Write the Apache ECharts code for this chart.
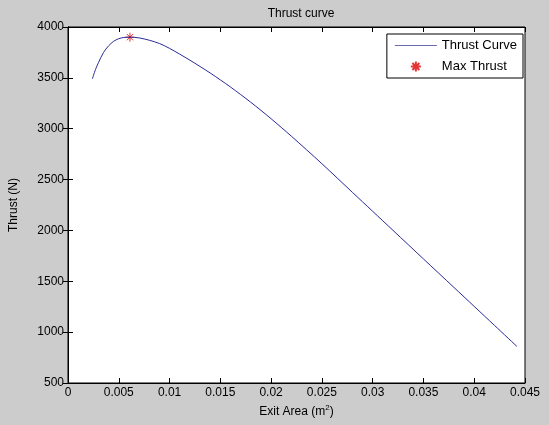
<!DOCTYPE html>
<html>
<head>
<meta charset="utf-8">
<script src="https://cdn.jsdelivr.net/npm/echarts@6/dist/echarts.min.js"></script>
<style>
html,body{margin:0;padding:0;background:#cccccc;}
#c{width:549px;height:425px;}
</style>
</head>
<body>
<div id="c"></div>
<script>
// Data
const exitArea = [0.0024, 0.0027, 0.0030, 0.0035, 0.0040, 0.0045, 0.0050, 0.0055, 0.0061, 0.0070, 0.0080, 0.0090, 0.0100, 0.0120, 0.0140, 0.0150, 0.0160, 0.0180, 0.0200, 0.0220, 0.0250, 0.0280, 0.0300, 0.0320, 0.0350, 0.0380, 0.0400, 0.0420, 0.0442];
const thrust   = [3490, 3580, 3650, 3750, 3815, 3860, 3885, 3897, 3900, 3893, 3870, 3838, 3790, 3674, 3548, 3480, 3410, 3260, 3098, 2926, 2656, 2375, 2188, 2001, 1720, 1440, 1253, 1066, 860];
const maxThrustX = [0.0061];
const maxThrustY = [3900];
const xTicks = [0, 0.005, 0.01, 0.015, 0.02, 0.025, 0.03, 0.035, 0.04, 0.045];
const yTicks = [500, 1000, 1500, 2000, 2500, 3000, 3500, 4000];

const font = 'Liberation Sans, Arial, sans-serif';
const chart = echarts.init(document.getElementById('c'), null, {renderer: 'canvas'});

const curveData = exitArea.map((x, i) => [x, thrust[i]]);
const maxData = maxThrustX.map((x, i) => [x, maxThrustY[i]]);
const star = 'path://M5,0 L5,10 M0,5 L10,5 M1.5,1.5 L8.5,8.5 M1.5,8.5 L8.5,1.5';

const xMin = xTicks[0], xMax = xTicks[xTicks.length - 1];
const yMin = yTicks[0], yMax = yTicks[yTicks.length - 1];
const xInt = xTicks[1] - xTicks[0], yInt = yTicks[1] - yTicks[0];

const tickStyle = {show: true, inside: true, length: 5, lineStyle: {color: '#000', width: 1}};

chart.setOption({
  backgroundColor: '#cccccc',
  animation: false,
  title: {
    text: 'Thrust curve',
    left: 296, top: 3, textAlign: 'center',
    textStyle: {fontFamily: font, fontSize: 12, fontWeight: 'normal', color: '#000'}
  },
  grid: {left: 66, right: 24, top: 27, bottom: 42, show: true, backgroundColor: '#ffffff', borderColor: '#000', borderWidth: 1},
  legend: {
    orient: 'vertical', right: 26, top: 34,
    backgroundColor: '#ffffff', borderColor: '#000', borderWidth: 1,
    padding: [5, 6, 5, 8], itemGap: 8, itemWidth: 42, itemHeight: 10,
    textStyle: {fontFamily: font, fontSize: 13, color: '#000'},
    data: [
      {name: 'Thrust Curve', icon: 'path://M0,5 L42,5 L42,6 L0,6 Z', itemStyle: {color: '#6a6ab0'}},
      {name: 'Max Thrust'}
    ]
  },
  xAxis: [{
    type: 'value', min: xMin, max: xMax, interval: xInt,
    name: 'Exit Area (m{sup|2})', nameLocation: 'middle', nameGap: 18,
    nameTextStyle: {fontFamily: font, fontSize: 12, color: '#000', rich: {sup: {fontSize: 8, verticalAlign: 'top', padding: [0,0,8,0], fontFamily: font, color:'#000'}}},
    axisLine: {show: true, lineStyle: {color: '#000'}},
    axisTick: tickStyle,
    axisLabel: {fontFamily: font, fontSize: 12, color: '#000', margin: 4, formatter: v => String(v)},
    splitLine: {show: false}
  }, {
    type: 'value', position: 'top', min: xMin, max: xMax, interval: xInt,
    axisLine: {show: true, lineStyle: {color: '#000'}},
    axisTick: tickStyle, axisLabel: {show: false}, splitLine: {show: false}
  }],
  yAxis: [{
    type: 'value', min: yMin, max: yMax, interval: yInt,
    name: 'Thrust (N)', nameLocation: 'middle', nameGap: 48,
    nameTextStyle: {fontFamily: font, fontSize: 12, color: '#000'},
    axisLine: {show: true, lineStyle: {color: '#000'}},
    axisTick: tickStyle,
    axisLabel: {fontFamily: font, fontSize: 12, color: '#000', margin: 4, formatter: v => String(v)},
    splitLine: {show: false}
  }, {
    type: 'value', position: 'right', min: yMin, max: yMax, interval: yInt,
    axisLine: {show: true, lineStyle: {color: '#000'}},
    axisTick: tickStyle, axisLabel: {show: false}, splitLine: {show: false}
  }],
  series: [{
    name: 'Thrust Curve', type: 'line', data: curveData, smooth: 0.3,
    showSymbol: false, symbol: 'none',
    lineStyle: {color: '#2a2a9a', width: 1},
    itemStyle: {color: '#5a5aaa'}
  }, {
    name: 'Max Thrust', type: 'scatter', data: maxData,
    symbol: star, symbolSize: 9,
    itemStyle: {color: 'rgba(0,0,0,0)', borderColor: '#e00000', borderWidth: 1}
  }]
});
</script>
</body>
</html>
